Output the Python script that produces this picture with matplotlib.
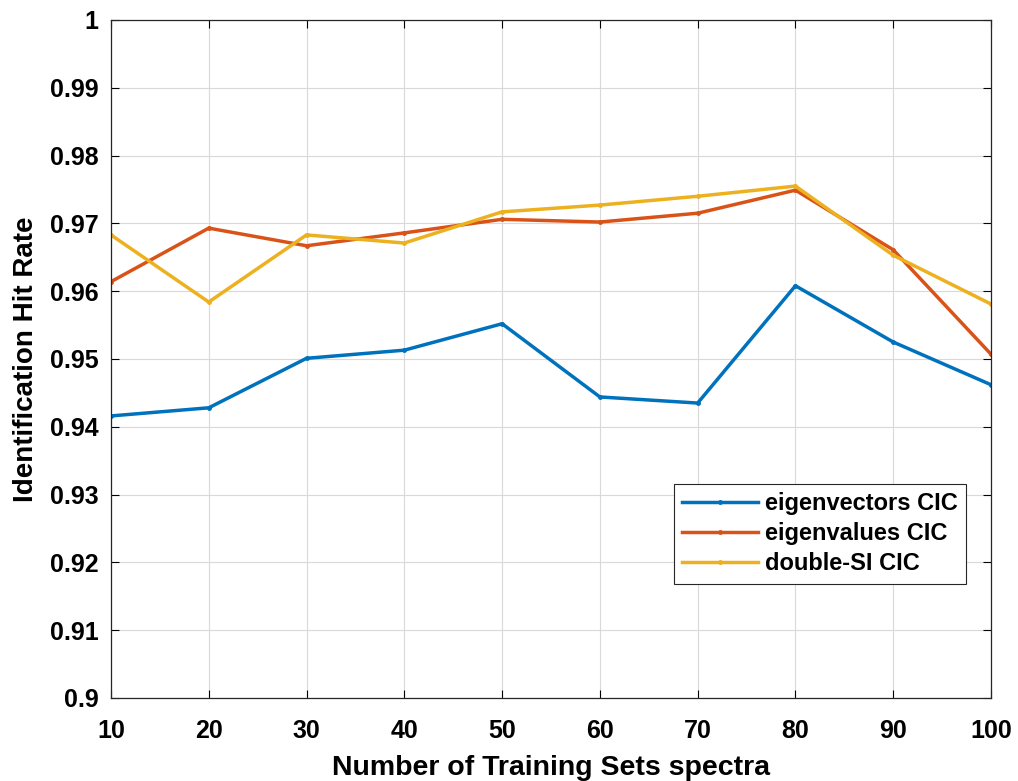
import matplotlib
matplotlib.use("Agg")
import matplotlib.pyplot as plt

training_sets = [10, 20, 30, 40, 50, 60, 70, 80, 90, 100]
eigenvectors_cic = [0.9416, 0.9428, 0.9501, 0.9513, 0.9552, 0.9444, 0.9435, 0.9608, 0.9525, 0.9462]
eigenvalues_cic = [0.9614, 0.9693, 0.9667, 0.9686, 0.9706, 0.9702, 0.9715, 0.9749, 0.9661, 0.9507]
double_si_cic = [0.9683, 0.9584, 0.9683, 0.9671, 0.9717, 0.9727, 0.9740, 0.9755, 0.9653, 0.9581]
y_ticks = [0.9, 0.91, 0.92, 0.93, 0.94, 0.95, 0.96, 0.97, 0.98, 0.99, 1.0]
y_tick_labels = ["0.9", "0.91", "0.92", "0.93", "0.94", "0.95", "0.96", "0.97", "0.98", "0.99", "1"]

plt.rcParams["font.family"] = ["Liberation Sans", "DejaVu Sans"]
plt.rcParams["font.weight"] = "bold"

fig = plt.figure(figsize=(10.18, 7.81), dpi=100)
ax = fig.add_axes([0.109, 0.1063, 0.8645, 0.8681])

ax.plot(training_sets, eigenvectors_cic, color="#0072BD", lw=2.5, marker=".", ms=5, label="eigenvectors CIC")
ax.plot(training_sets, eigenvalues_cic, color="#D95319", lw=2.5, marker=".", ms=5, label="eigenvalues CIC")
ax.plot(training_sets, double_si_cic, color="#EDB120", lw=2.5, marker=".", ms=5, label="double-SI CIC")

ax.set_xlim(10, 100)
ax.set_ylim(0.9, 1.0)
ax.set_xticks(training_sets)
ax.set_yticks(y_ticks)
ax.set_yticklabels(y_tick_labels)
ax.tick_params(direction="in", labelsize=18, length=6, width=0.8, top=True, right=True)
ax.tick_params(axis="y", pad=9)
ax.tick_params(axis="x", pad=15)
ax.grid(True, color="#d9d9d9", lw=0.8)
for s in ax.spines.values():
    s.set_color("#262626")
    s.set_linewidth(0.9)

ax.set_xlabel("Number of Training Sets spectra", fontsize=20.5, fontweight="bold", labelpad=9)
ax.set_ylabel("Identification Hit Rate", fontsize=20, fontweight="bold", labelpad=8)

leg = ax.legend(loc="upper right", bbox_to_anchor=(0.9716, 0.3156), fontsize=17, fancybox=False,
                edgecolor="#262626", framealpha=1, borderaxespad=0, handlelength=3.2,
                handletextpad=0.3, labelspacing=0.3, borderpad=0.35)
leg.get_frame().set_linewidth(0.8)

fig.savefig("out.png", dpi=100)
